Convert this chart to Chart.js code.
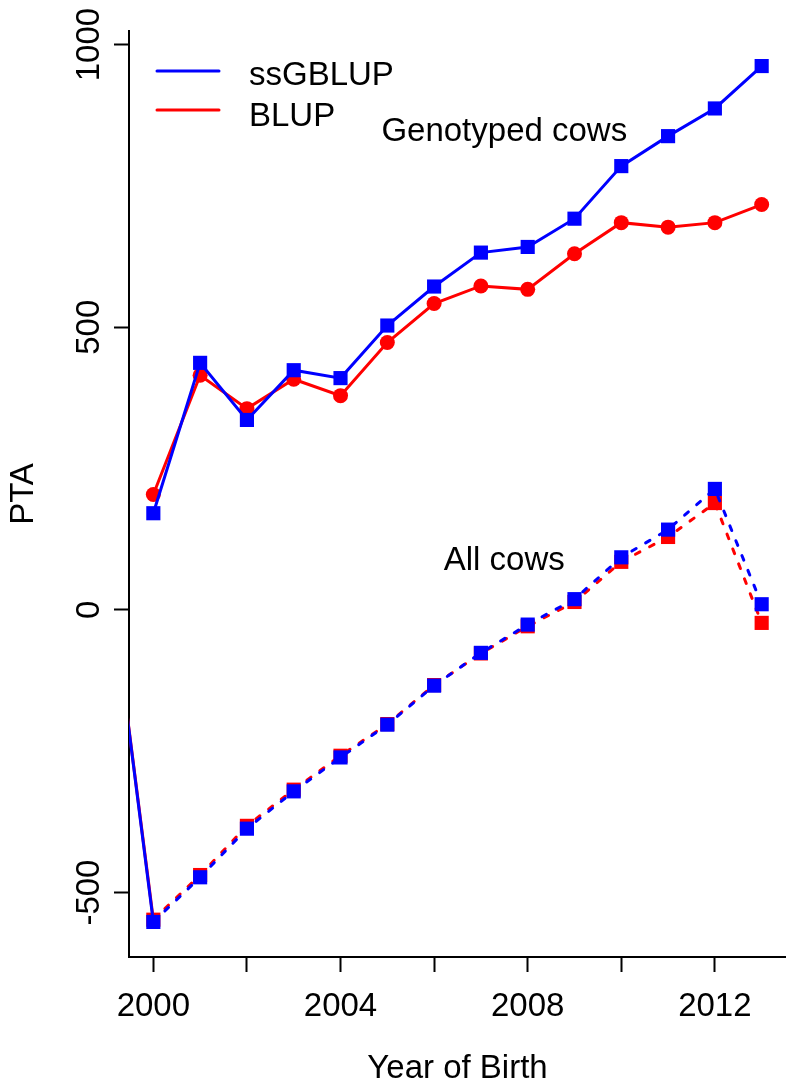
<!DOCTYPE html>
<html>
<head>
<meta charset="utf-8">
<title>PTA by year of birth</title>
<script src="https://cdn.jsdelivr.net/npm/chart.js@4.4.0/dist/chart.umd.min.js"></script>
<style>
  body { margin: 0; background: #fff; }
  canvas { display: block; }
</style>
</head>
<body>
<canvas id="grafico" width="786" height="1086"></canvas>
<script>
// genotyped cows (solid lines)
const anios_genotipadas = [2000, 2001, 2002, 2003, 2004, 2005, 2006, 2007, 2008, 2009, 2010, 2011, 2012, 2013]
const ssgblup_genotipadas = [171, 437, 336, 424, 410, 503, 572, 632, 642, 692, 785, 838, 887, 962]
const blup_genotipadas = [204, 415, 356, 408, 379, 473, 542, 573, 567, 630, 685, 677, 685, 717]

// all cows (dashed lines), the 1999 value is off the axis, only the line coming in from the left shows
const anios_todas = [1999, 2000, 2001, 2002, 2003, 2004, 2005, 2006, 2007, 2008, 2009, 2010, 2011, 2012, 2013]
const ssgblup_todas = [100, -552, -473, -387, -321, -261, -203, -134, -76, -26, 19, 93, 142, 214, 10]
const blup_todas = [100, -548, -469, -382, -318, -258, -202, -133, -77, -29, 14, 85, 129, 189, -23]

const ticks_x = [2000, 2002, 2004, 2006, 2008, 2010, 2012]
const etiquetas_x = [2000, 2004, 2008, 2012]
const ticks_y = [-500, 0, 500, 1000]

const azul = "#0000ff"
const rojo = "#ff0000"
const fuente = '33px "Liberation Sans", Arial, sans-serif'
const guion = [5, 11]

function a_puntos(anios, valores) {
    return anios.map((anio, i) => ({ x: anio, y: valores[i] }))
}

function serie(nombre, anios, valores, color, forma, radio, punteada, orden) {
    const datos = {
        label: nombre,
        data: a_puntos(anios, valores),
        borderColor: color,
        backgroundColor: color,
        borderWidth: 3,
        borderCapStyle: "round",
        tension: 0,
        pointStyle: forma,
        pointRadius: radio,
        pointBorderWidth: 0,
        pointBackgroundColor: color,
        order: orden
    }
    if (punteada) {
        datos.borderDash = guion
        // the segment coming from 1999 is drawn solid in the original
        datos.segment = {
            borderDash: ctx => ctx.p0.parsed.x < 2000 ? [] : guion
        }
    }
    return datos
}

// texts: tick labels, axis titles, legend and the two notes
const textos = {
    id: "textos",
    afterDraw(chart) {
        const ctx = chart.ctx
        const escala_x = chart.scales.x
        const escala_y = chart.scales.y
        ctx.save()
        ctx.fillStyle = "#000"
        ctx.font = fuente
        ctx.textAlign = "center"
        ctx.textBaseline = "alphabetic"

        for (const v of etiquetas_x) {
            ctx.fillText(String(v), escala_x.getPixelForValue(v), 1016)
        }
        for (const v of ticks_y) {
            ctx.save()
            ctx.translate(99, escala_y.getPixelForValue(v))
            ctx.rotate(-Math.PI / 2)
            ctx.fillText(String(v), 0, 0)
            ctx.restore()
        }

        ctx.fillText("Year of Birth", (chart.chartArea.left + chart.chartArea.right) / 2, 1078)
        ctx.save()
        ctx.translate(33, (chart.chartArea.top + chart.chartArea.bottom) / 2)
        ctx.rotate(-Math.PI / 2)
        ctx.fillText("PTA", 0, 0)
        ctx.restore()

        ctx.fillText("Genotyped cows", escala_x.getPixelForValue(2007.5), escala_y.getPixelForValue(830))
        ctx.fillText("All cows", escala_x.getPixelForValue(2007.5), escala_y.getPixelForValue(71))

        // legend
        ctx.lineWidth = 3
        ctx.lineCap = "round"
        ctx.strokeStyle = azul
        ctx.beginPath()
        ctx.moveTo(157, 71)
        ctx.lineTo(219, 71)
        ctx.stroke()
        ctx.strokeStyle = rojo
        ctx.beginPath()
        ctx.moveTo(157, 110)
        ctx.lineTo(219, 110)
        ctx.stroke()
        ctx.textAlign = "left"
        ctx.fillText("ssGBLUP", 249, 85)
        ctx.fillText("BLUP", 249, 126)
        ctx.restore()
    }
}

function crear_grafico() {
    const $grafica = document.querySelector("#grafico")
    new Chart($grafica, {
        type: "line",
        data: {
            datasets: [
                serie("ssGBLUP", anios_genotipadas, ssgblup_genotipadas, azul, "rect", 10, false, 0),
                serie("BLUP", anios_genotipadas, blup_genotipadas, rojo, "circle", 7.5, false, 1),
                serie("ssGBLUP all", anios_todas, ssgblup_todas, azul, "rect", 10, true, 0),
                serie("BLUP all", anios_todas, blup_todas, rojo, "rect", 10, true, 1)
            ]
        },
        options: {
            responsive: false,
            animation: false,
            devicePixelRatio: 1,
            layout: {
                autoPadding: false,
                padding: { top: 31, left: 0, right: 0, bottom: 0 }
            },
            plugins: {
                legend: { display: false },
                tooltip: { enabled: false }
            },
            scales: {
                x: {
                    type: "linear",
                    min: 1999.48,
                    max: 2013.52,
                    afterBuildTicks: escala => { escala.ticks = ticks_x.map(v => ({ value: v })) },
                    afterFit: escala => { escala.height = 129 },
                    ticks: { display: false },
                    grid: {
                        drawOnChartArea: false,
                        drawTicks: true,
                        tickLength: 15,
                        tickWidth: 2,
                        tickColor: "#000"
                    },
                    border: { display: true, color: "#000", width: 2 }
                },
                y: {
                    type: "linear",
                    min: -614,
                    max: 1024,
                    afterBuildTicks: escala => { escala.ticks = ticks_y.map(v => ({ value: v })) },
                    afterFit: escala => { escala.width = 129 },
                    ticks: { display: false },
                    grid: {
                        drawOnChartArea: false,
                        drawTicks: true,
                        tickLength: 15,
                        tickWidth: 2,
                        tickColor: "#000"
                    },
                    border: { display: true, color: "#000", width: 2 }
                }
            }
        },
        plugins: [textos]
    })
}

crear_grafico()
</script>
</body>
</html>
